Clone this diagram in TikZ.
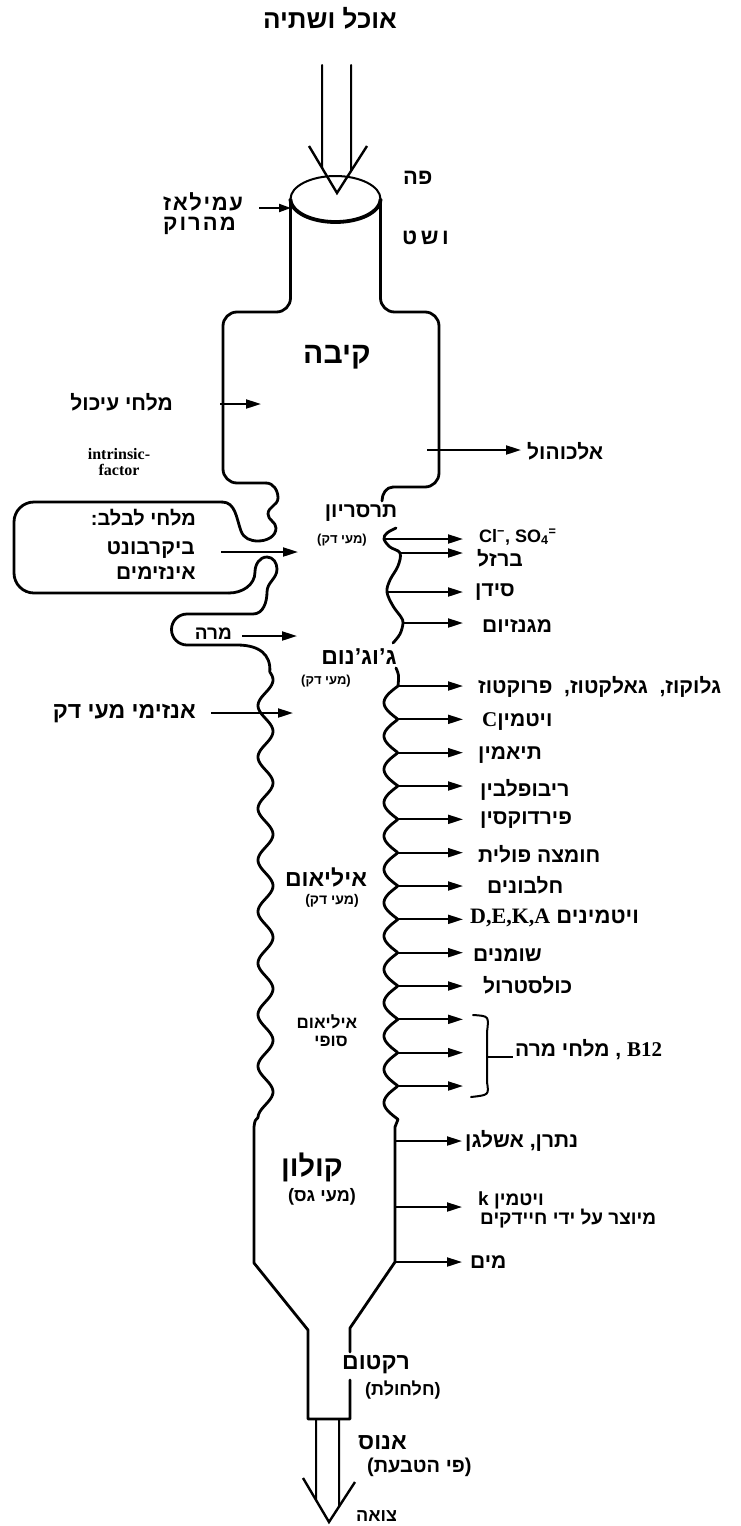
\documentclass[tikz,border=0pt]{standalone}
\usepackage{fontspec}
\setmainfont{Liberation Sans}
\newfontfamily\hebfont[Script=Hebrew]{Liberation Sans}
\newfontfamily\latfont{Liberation Sans}
\newfontfamily\serifb{Liberation Serif}
\usetikzlibrary{arrows.meta}
\TeXXeTstate=1
% parentheses set in a Latin face so they keep their left/right shapes
\newcommand{\lpar}{{\latfont(}}
\newcommand{\rpar}{{\latfont)}}
\begin{document}
\begin{tikzpicture}[x=1pt,y=-1pt,
  wall/.style={line width=2.8pt, line join=round, line cap=round},
  arr/.style={line width=2pt, -{Triangle[length=15pt,width=9pt]}},
  shaft/.style={line width=2pt, line cap=round},
  hf/.style={font=\hebfont\bfseries\fontsize{#1}{#1}\selectfont, inner sep=0pt},
  hf/.default=21
]
\fill[white] (0,0) rectangle (740,1526);
\useasboundingbox (0,0) rectangle (740,1526);

% ---------- food and drink entering ----------
\node[hf=26] (title) at (330,18) {\beginR אוכל ושתיה\endR};
\coordinate (shL) at (322,65);
\coordinate (shR) at (351,65);
\coordinate (vL) at (309,146);
\coordinate (vTip) at (337,193);
\coordinate (vR) at (367,146);
\draw[shaft] (shL) -- (intersection of 322,65--322,200 and 309,146--337,193);
\draw[shaft] (shR) -- (intersection of 351,65--351,200 and 367,146--337,193);
\draw[line width=2.4pt, line join=miter] (vL) -- (vTip) -- (vR);

% ---------- mouth ----------
\draw[line width=2pt] (335.5,199) ellipse [x radius=45pt, y radius=23pt];
\draw[line width=3.8pt] plot[domain=0:180, samples=50] ({335.5+45*cos(\x)},{199+23*sin(\x)});
\node[hf=22, anchor=west] (tMouth) at (403,178) {\beginR פה\endR};
\node[hf=22, anchor=west] (tEso) at (402,238) {\beginR ו\kern3.5pt ש\kern3.5pt ט\endR};
\node[hf=22, anchor=west] (tAm1) at (163,202) {\beginR ע\kern1.6pt מ\kern1.6pt י\kern1.6pt ל\kern1.6pt א\kern1.6pt ז\endR};
\node[hf=22, anchor=west] (tAm2) at (163,226) {\beginR מ\kern2pt ה\kern2pt ר\kern2pt ו\kern2pt ק\endR};
\coordinate (amS) at (259,208);
\coordinate (amE) at (291,208);
\draw[arr, -{Triangle[length=12pt,width=8pt]}] (amS) -- (amE);

% ---------- oesophagus and stomach ----------
\draw[wall, rounded corners=14pt] (290.5,199) -- (290.5,312) -- (223,312) -- (223,483) -- (266,483);
\draw[wall, rounded corners=14pt] (380.5,199) -- (380.5,312) -- (439,312) -- (439,487) -- (393,487);
\draw[wall] (393,487) to[out=180,in=90] (382,501);
\node[hf=30] (tSt) at (337,357) {\beginR קיבה\endR};

\node[hf, anchor=east] (tSalt) at (173,402) {\beginR מלחי עיכול\endR};
\coordinate (saS) at (220,404);
\coordinate (saE) at (261,404);
\draw[arr] (saS) -- (saE);
\node[font=\serifb\bfseries\fontsize{16}{16}\selectfont, align=center, inner sep=0pt] (tIF) at (119,462) {intrinsic-\\factor};
\coordinate (alS) at (427,450);
\coordinate (alE) at (521,450);
\draw[arr] (alS) -- (alE);
\node[hf, anchor=west] (tAlc) at (527,451) {\beginR אלכוהול\endR};

% ---------- pylorus, pancreas, gall bladder ----------
\draw[wall] (266,483) to[out=0,in=90] (278,498) to[out=-90,in=90] (268,514)
  to[out=-90,in=90] (276,528) to[out=-90,in=0] (258,541) to[out=180,in=-70] (241,531)
  to[out=110,in=0] (222,502);
\draw[wall, rounded corners=20pt] (222,502) -- (14,502) -- (14,593) -- (229,593);
\draw[wall] (229,593) to[out=0,in=-90] (255,572) to[out=90,in=180] (267,557)
  to[out=0,in=90] (277,569) to[out=-90,in=90] (267,592) to[out=-90,in=0] (253,614)
  -- (187,614) arc[start angle=90, end angle=270, radius=15.5pt] -- (237,645)
  .. controls (260,645) and (271,655) .. (269.8,672)
  -- plot[domain=672:1117.5, samples=240, variable=\t] ({265.5+7.5*sin(6.99029*(\t-770))}, \t)
  .. controls (255,1120) .. (254,1127) -- (254,1263) -- (308,1330) -- (308,1419)
  -- (350,1419) -- (350,1380);

\node[hf=20, anchor=east] (tPan) at (196,518) {\beginR מלחי לבלב:\endR};
\node[hf, anchor=east] (tBic) at (195,550) {\beginR ביקרבונט\endR};
\node[hf, anchor=east] (tEnz) at (196,573) {\beginR אינזימים\endR};
\coordinate (biS) at (221,552);
\coordinate (biE) at (298,552);
\draw[arr] (biS) -- (biE);
\node[hf=19, anchor=east] (tBile) at (232,634) {\beginR מרה\endR};
\coordinate (blS) at (242,636);
\coordinate (blE) at (297,636);
\draw[arr] (blS) -- (blE);
\node[hf=23, anchor=east] (tSIE) at (196,713) {\beginR אנזימי מעי דק\endR};
\coordinate (seS) at (211,713);
\coordinate (seE) at (293,713);
\draw[arr] (seS) -- (seE);

% ---------- duodenum ----------
\node[hf] (tDuo) at (361,513) {\beginR תרסריון\endR};
\node[hf=13] (tDuo2) at (342,540) {\lpar\beginR מעי דק\endR\rpar};
\draw[wall] plot[smooth, tension=0.6] coordinates {(396,528) (387,533) (384,539) (390,547) (400,553) (398,566) (390,580) (387,592) (393,606) (401,617) (403,623) (400,634) (393,643)};
\coordinate (d1) at (384,539);  \coordinate (d1e) at (463,539);
\coordinate (d2) at (400,553);  \coordinate (d2e) at (463,553);
\coordinate (d3) at (387,592);  \coordinate (d3e) at (463,592);
\coordinate (d4) at (403,623);  \coordinate (d4e) at (463,623);
\draw[arr] (d1) -- (d1e);
\draw[arr] (d2) -- (d2e);
\draw[arr] (d3) -- (d3e);
\draw[arr] (d4) -- (d4e);
\node[hf=18, anchor=west] (tCl) at (479,537) {Cl\textsuperscript{−}, SO\textsubscript{4}\textsuperscript{=}};
\node[hf, anchor=west] (tFe) at (477,558) {\beginR ברזל\endR};
\node[hf, anchor=west] (tCa) at (475,592) {\beginR סידן\endR};
\node[hf, anchor=west] (tMg) at (482,626) {\beginR מגנזיום\endR};

% ---------- jejunum and ileum ----------
\node[hf=23] (tJej) at (359,657) {\beginR ג’וג’נום\endR};
\node[hf=13] (tJej2) at (326,681) {\lpar\beginR מעי דק\endR\rpar};
\node[hf=23] (tIle) at (326,877) {\beginR איליאום\endR};
\node[hf=14] (tIle2) at (332,901) {\lpar\beginR מעי דק\endR\rpar};
\node[hf=17] (tTI1) at (327,1022) {\beginR איליאום\endR};
\node[hf=17] (tTI2) at (331,1041) {\beginR סופי\endR};

\draw[wall] (396,668) .. controls (399,675) .. (398,686)
  -- plot[domain=686:1119.333, samples=400, variable=\t] ({398-14*abs(sin(5.4*(\t-686)))}, \t)
  -- (395,1127) -- (395,1262) -- (350,1328) -- (350,1352);

\foreach \k in {0,...,12}{
  \coordinate (r\k) at (398,{686+33.3333*\k});
  \coordinate (re\k) at (463,{686+33.3333*\k});
  \draw[arr] (r\k) -- (re\k);
}
\node[hf, anchor=west] (tSug) at (478,687) {\beginR גלוקוז,\ \ גאלקטוז,\ \ פרוקטוז\endR};
\node[hf, anchor=west] (tVC) at (482,722) {\beginR ויטמין\beginL{\serifb\bfseries C}\endL\endR};
\node[hf, anchor=west] (tB1) at (478,755) {\beginR תיאמין\endR};
\node[hf, anchor=west] (tB2) at (480,790) {\beginR ריבופלבין\endR};
\node[hf, anchor=west] (tB6) at (480,820) {\beginR פירדוקסין\endR};
\node[hf, anchor=west] (tFol) at (478,854) {\beginR חומצה פולית\endR};
\node[hf, anchor=west] (tProt) at (487,885) {\beginR חלבונים\endR};
\node[hf=22, anchor=west] (tVit) at (470,918) {\beginR ויטמינים \beginL{\serifb\bfseries D,E,K,A}\endL\endR};
\node[hf, anchor=west] (tFat) at (473,955) {\beginR שומנים\endR};
\node[hf, anchor=west] (tChol) at (483,985) {\beginR כולסטרול\endR};

\coordinate (brT) at (473,1015);
\coordinate (brB) at (471,1097);
\coordinate (brM) at (487,1057);
\coordinate (brX) at (513,1057);
\draw[line width=2pt, line cap=round] (brT) .. controls (489,1016) .. (487,1032) -- (487,1082) .. controls (489,1095) .. (brB);
\draw[line width=2pt] (brM) -- (brX);
\node[hf, anchor=base west] (tB12) at (515,1056) {\beginR\beginL{\serifb\bfseries B12}\endL\ , מלחי מרה\endR};

% ---------- colon ----------
\node[hf=29] (tCol) at (312,1167) {\beginR קולון\endR};
\node[hf=18] (tCol2) at (322,1197) {\lpar\beginR מעי גס\endR\rpar};
\coordinate (c1) at (395,1141); \coordinate (c1e) at (462,1141);
\coordinate (c2) at (395,1207); \coordinate (c2e) at (462,1207);
\coordinate (c3) at (395,1262); \coordinate (c3e) at (462,1262);
\draw[arr] (c1) -- (c1e);
\draw[arr] (c2) -- (c2e);
\draw[arr] (c3) -- (c3e);
\node[hf, anchor=west] (tNaK) at (465,1141) {\beginR נתרן, אשלגן\endR};
\node[hf=19, anchor=west] (tK1) at (478,1200) {\beginR ויטמין \beginL k\endL\endR};
\node[hf=19, anchor=west] (tK2) at (480,1219) {\beginR מיוצר על ידי חיידקים\endR};
\node[hf, anchor=west] (tW) at (470,1262) {\beginR מים\endR};

% ---------- rectum and anus ----------
\node[hf=23, anchor=west] (tRec) at (342,1365) {\beginR רקטום\endR};
\node[hf=18, anchor=west] (tRec2) at (365,1390) {\lpar\beginR חלחולת\endR\rpar};
\coordinate (anL) at (316,1419);
\coordinate (anR) at (339,1419);
\coordinate (avL) at (303,1478);
\coordinate (avTip) at (329,1522);
\coordinate (avR) at (355,1482);
\draw[shaft] (anL) -- (intersection of 316,1419--316,1530 and 303,1478--329,1522);
\draw[shaft] (anR) -- (intersection of 339,1419--339,1530 and 355,1482--329,1522);
\draw[line width=2.4pt, line join=miter] (avL) -- (avTip) -- (avR);
\node[hf=23, anchor=west] (tAn) at (358,1443) {\beginR אנוס\endR};
\node[hf=20, anchor=west] (tAn2) at (367,1467) {\lpar\beginR פי הטבעת\endR\rpar};
\node[hf=18, anchor=west] (tFec) at (356,1516) {\beginR צואה\endR};
\end{tikzpicture}
\end{document}
